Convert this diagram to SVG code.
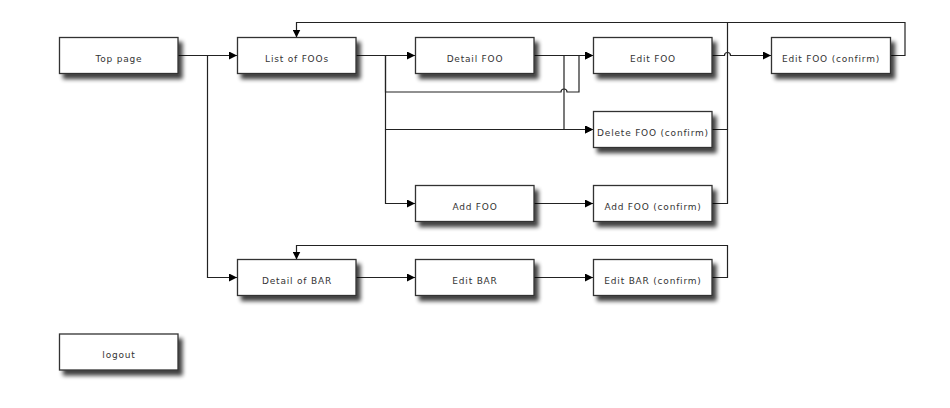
<svg xmlns="http://www.w3.org/2000/svg" width="950" height="408" viewBox="0 0 950 408">
<defs>
<filter id="sh" x="-10%" y="-20%" width="130%" height="160%">
<feGaussianBlur in="SourceAlpha" stdDeviation="2"/>
<feOffset dx="4" dy="5" result="b"/>
<feComponentTransfer><feFuncA type="linear" slope="0.75"/></feComponentTransfer>
<feMerge><feMergeNode/><feMergeNode in="SourceGraphic"/></feMerge>
</filter>
<marker id="arr" viewBox="0 0 10 10" refX="10" refY="5" markerWidth="8" markerHeight="8" markerUnits="userSpaceOnUse" orient="auto">
<path d="M0,0 L10,5 L0,10 Z" fill="#000"/>
</marker>
</defs>
<style>
.box rect{fill:#fff;stroke:#333;stroke-width:1.3;filter:url(#sh)}
.box text{font-family:"DejaVu Sans",sans-serif;font-size:9px;letter-spacing:0.8px;fill:#333;text-anchor:middle}
.c path{fill:none;stroke:#222;stroke-width:1.2}
.c path.a{marker-end:url(#arr)}
</style>
<rect width="950" height="408" fill="#fff"/>
<g class="c" id="connectors">
<path class="a" d="M178,55.5 H237"/>
<path class="a" d="M178,55.5 H207.5 V277.5 H237"/>
<path class="a" d="M356,55.5 H415"/>
<path class="a" d="M385.5,55.5 V92 H561 a3,3 0 0 1 6,0 H579 V55.5 H593"/>
<path class="a" d="M385.5,55.5 V129.5 H593"/>
<path class="a" d="M385.5,129.5 V203.5 H415"/>
<path class="a" d="M534,55.5 H593"/>
<path class="a" d="M564,55.5 V129.5 H593"/>
<path class="a" d="M712,55.5 H724.5 a3,3 0 0 1 6,0 H771"/>
<path class="a" d="M890.5,55.5 H905 V22.5 H296.5 V37.5"/>
<path d="M712,129.5 H727.5 V22.5"/>
<path d="M712,203.5 H727.5 V129.5"/>
<path class="a" d="M534,203.5 H593"/>
<path class="a" d="M356,277.5 H415"/>
<path class="a" d="M534,277.5 H593"/>
<path class="a" d="M712,277.5 H727.5 V245.5 H296.5 V259.5"/>
</g>
<g class="box" id="top-page"><rect x="59.5" y="37.5" width="118.5" height="36"/><text x="119" y="61.5">Top page</text></g>
<g class="box" id="list-foos"><rect x="237.5" y="37.5" width="118.5" height="36"/><text x="297" y="61.5">List of FOOs</text></g>
<g class="box" id="detail-foo"><rect x="415.5" y="37.5" width="118.5" height="36"/><text x="475" y="61.5">Detail FOO</text></g>
<g class="box" id="edit-foo"><rect x="593.5" y="37.5" width="118.5" height="36"/><text x="653" y="61.5">Edit FOO</text></g>
<g class="box" id="edit-foo-confirm"><rect x="771.5" y="37.5" width="119" height="36"/><text x="831" y="61.5">Edit FOO (confirm)</text></g>
<g class="box" id="delete-foo-confirm"><rect x="593.5" y="111.5" width="118.5" height="36"/><text x="653" y="135.5">Delete FOO (confirm)</text></g>
<g class="box" id="add-foo"><rect x="415.5" y="185.5" width="118.5" height="36"/><text x="475" y="209.5">Add FOO</text></g>
<g class="box" id="add-foo-confirm"><rect x="593.5" y="185.5" width="118.5" height="36"/><text x="653" y="209.5">Add FOO (confirm)</text></g>
<g class="box" id="detail-bar"><rect x="237.5" y="259.5" width="118.5" height="36"/><text x="297" y="283.5">Detail of BAR</text></g>
<g class="box" id="edit-bar"><rect x="415.5" y="259.5" width="118.5" height="36"/><text x="475" y="283.5">Edit BAR</text></g>
<g class="box" id="edit-bar-confirm"><rect x="593.5" y="259.5" width="118.5" height="36"/><text x="653" y="283.5">Edit BAR (confirm)</text></g>
<g class="box" id="logout"><rect x="59.5" y="334" width="118.5" height="36"/><text x="119" y="358">logout</text></g>
</svg>
